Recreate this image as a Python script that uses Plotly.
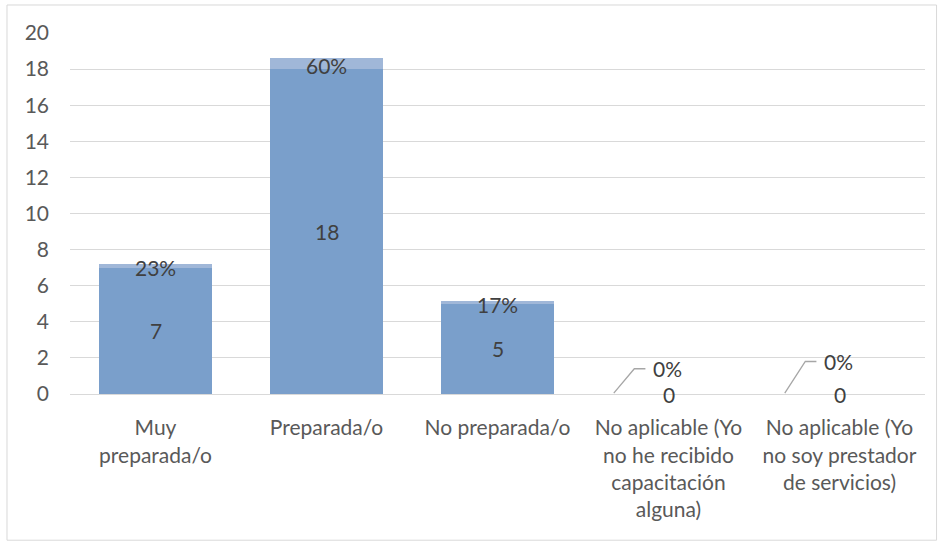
import plotly.graph_objects as go

categories = ["Muy<br>preparada/o", "Preparada/o", "No preparada/o",
              "No aplicable (Yo<br>no he recibido<br>capacitación<br>alguna)",
              "No aplicable (Yo<br>no soy prestador<br>de servicios)"]
counts = [7, 18, 5, 0, 0]
shares = [0.23, 0.60, 0.17, 0.0, 0.0]
share_labels = ["23%", "60%", "17%", "0%", "0%"]
y_ticks = [0, 2, 4, 6, 8, 10, 12, 14, 16, 18, 20]

FONT = "Lato"
FS = 21
TXT = "#404040"
AX = "#595959"

xs = list(range(len(categories)))

fig = go.Figure()
fig.add_trace(go.Bar(
    x=xs, y=counts, width=0.66,
    marker=dict(color="rgb(122,159,203)", line=dict(width=0)),
    hoverinfo="skip",
))
fig.add_trace(go.Bar(
    x=xs, y=shares, width=0.66,
    marker=dict(color="rgb(160,183,216)", line=dict(width=0)),
    hoverinfo="skip",
))

annotations = []
shapes = []
for i, (c, s, lab) in enumerate(zip(counts, shares, share_labels)):
    annotations.append(dict(x=i, y=c / 2, text=str(c), showarrow=False,
                            font=dict(family=FONT, size=FS, color=TXT)))
    if c > 0:
        annotations.append(dict(x=i, y=c + s / 2 - 0.1, text=lab, showarrow=False,
                                font=dict(family=FONT, size=FS, color=TXT)))
    else:
        # leader line for empty categories
        ly = 1.4 if i == 3 else 1.8
        annotations.append(dict(x=i - 0.1, y=ly, text=lab, showarrow=False,
                                xanchor="left",
                                font=dict(family=FONT, size=FS, color=TXT)))
        shapes.append(dict(type="path", xref="x", yref="y",
                           path=f"M {i-0.32},{0.05} L {i-0.2},{ly} L {i-0.135},{ly}",
                           line=dict(color="#A6A6A6", width=1.3)))

# outer chart border
shapes.append(dict(type="rect", xref="paper", yref="paper",
                   x0=-0.0737, x1=1.0135, y0=-0.405, y1=1.0776,
                   line=dict(color="#D9D9D9", width=1)))

fig.update_layout(
    barmode="stack",
    width=939, height=543,
    margin=dict(l=70, r=14, t=33, b=149),
    paper_bgcolor="white", plot_bgcolor="white",
    showlegend=False,
    font=dict(family=FONT, size=FS, color=AX),
    annotations=annotations,
    shapes=shapes,
    xaxis=dict(
        tickmode="array", tickvals=xs, ticktext=categories,
        range=[-0.5, 4.5], showgrid=False, zeroline=False,
        showline=True, linecolor="#D9D9D9", linewidth=1,
        tickfont=dict(family=FONT, size=FS, color=AX), ticks="",
        ticklabelstandoff=15,
    ),
    yaxis=dict(
        range=[0, 20], tickvals=y_ticks, showgrid=True, gridcolor="#D9D9D9",
        gridwidth=1, zeroline=False, showline=False, ticks="",
        ticklabelstandoff=20,
        tickfont=dict(family=FONT, size=FS, color=AX),
    ),
)

fig.write_html("out.html")
